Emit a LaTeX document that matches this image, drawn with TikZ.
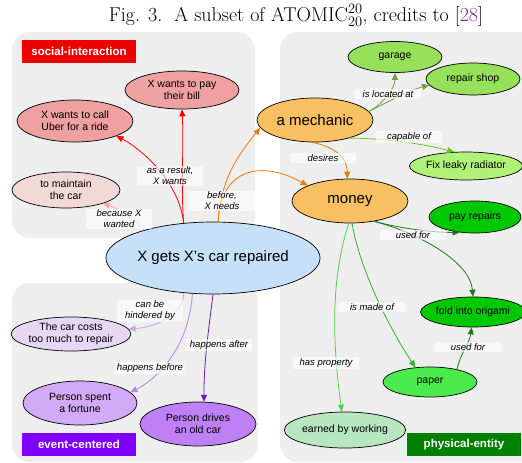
\documentclass[tikz,border=0pt]{standalone}
\usepackage{fontspec}
\setsansfont{Liberation Sans}
\usetikzlibrary{shapes.geometric,arrows.meta}
\definecolor{panelc}{RGB}{238,238,238}
\definecolor{citec}{RGB}{128,40,128}
\definecolor{catred}{RGB}{236,0,0}
\definecolor{catpur}{RGB}{128,0,255}
\definecolor{catgrn}{RGB}{0,128,0}
\definecolor{fRed}{RGB}{239,160,160}
\definecolor{fPink}{RGB}{243,216,216}
\definecolor{fBlue}{RGB}{197,224,248}
\definecolor{fOrange}{RGB}{248,192,96}
\definecolor{fGreenA}{RGB}{150,224,90}
\definecolor{fGreenB}{RGB}{176,242,120}
\definecolor{fGreenC}{RGB}{0,200,0}
\definecolor{fGreenD}{RGB}{75,235,75}
\definecolor{fGreenE}{RGB}{184,230,192}
\definecolor{fLav}{RGB}{230,215,245}
\definecolor{fPurA}{RGB}{210,170,245}
\definecolor{fPurB}{RGB}{192,128,245}
\definecolor{eRed}{RGB}{250,0,0}
\definecolor{ePink}{RGB}{240,170,170}
\definecolor{eOrange}{RGB}{240,120,0}
\definecolor{eOrangeD}{RGB}{210,130,0}
\definecolor{eOlive}{RGB}{110,160,60}
\definecolor{eLime}{RGB}{100,200,30}
\definecolor{eDark}{RGB}{30,120,30}
\definecolor{eMid}{RGB}{50,180,50}
\definecolor{eLight}{RGB}{80,210,80}
\definecolor{eLavA}{RGB}{200,160,240}
\definecolor{eLavB}{RGB}{180,130,240}
\definecolor{eLavC}{RGB}{110,20,210}
\tikzset{
  ent/.style={ellipse, draw=black, line width=0.7pt, inner sep=0pt, align=center,
    font=\sffamily\fontsize{10.5}{12}\selectfont},
  bigent/.style={ent, font=\sffamily\fontsize{15}{17}\selectfont},
  cat/.style={inner sep=0pt, text=white, minimum width=114pt, minimum height=23pt,
    font=\sffamily\bfseries\fontsize{11.5}{13}\selectfont},
  elab/.style={fill=white, fill opacity=0.6, text opacity=1, inner sep=1.5pt,
    minimum width=66pt, align=center, font=\sffamily\itshape\fontsize{9.5}{11}\selectfont},
  conn/.style={line width=0.8pt, -{Triangle[length=7pt,width=6pt]}},
  panel/.style={fill=panelc, rounded corners=18pt}
}
\begin{document}
\begin{tikzpicture}[x=1pt,y=-1pt]
\useasboundingbox (0,0) rectangle (522,463);
\clip (0,0) rectangle (522,463);
% title
\node[anchor=base, inner sep=0pt, font=\fontsize{20}{23}\selectfont] (title) at (296,21)
  {Fig. 3.\ \ A subset of ATOMIC$^{20}_{20}$, credits to [\textcolor{citec}{28}]};
% panels
\fill[panel] (12,32) rectangle (255,238);
\fill[panel] (12,283) rectangle (258,462);
\fill[panel] (280,32) rectangle (545,462);
% category labels
\node[cat, fill=catred] (csoc) at (79,51.5) {social-interaction};
\node[cat, fill=catpur] (cevt) at (79,444.5) {event-centered};
\node[cat, fill=catgrn] (cphy) at (464,444.5) {physical-entity};
% entity nodes
\node[ent, fill=fRed, minimum width=114pt, minimum height=38pt] (pay) at (182,90) {X wants to pay\\their bill};
\node[ent, fill=fRed, minimum width=116pt, minimum height=42pt] (uber) at (75,121) {X wants to call\\Uber for a ride};
\node[ent, fill=fPink, minimum width=108pt, minimum height=36pt] (maint) at (66,190) {to maintain\\the car};
\node[bigent, fill=fBlue, minimum width=200pt, minimum height=72pt] (xg) at (213,258) {X gets X’s car repaired};
\node[bigent, fill=fOrange, minimum width=116pt, minimum height=44pt] (mech) at (315,120) {a mechanic};
\node[bigent, fill=fOrange, minimum width=116pt, minimum height=44pt] (money) at (350,201) {money};
\node[ent, fill=fGreenA, minimum width=94pt, minimum height=31pt] (gar) at (395,57) {garage};
\node[ent, fill=fGreenA, minimum width=94pt, minimum height=32pt] (shop) at (473,79) {repair shop};
\node[ent, fill=fGreenB, minimum width=110pt, minimum height=28pt] (fix) at (466,166) {Fix leaky radiator};
\node[ent, fill=fGreenC, minimum width=92pt, minimum height=32pt] (payr) at (475,217) {pay repairs};
\node[ent, fill=fGreenC, minimum width=94pt, minimum height=30pt] (fold) at (473,312) {fold into origami};
\node[ent, fill=fGreenD, minimum width=94pt, minimum height=30pt] (paper) at (430,382) {paper};
\node[ent, fill=fGreenE, minimum width=116pt, minimum height=36pt] (earn) at (345,430) {earned by working};
\node[ent, fill=fLav, minimum width=116pt, minimum height=34pt] (cost) at (71,334) {The car costs\\too much to repair};
\node[ent, fill=fPurA, minimum width=114pt, minimum height=44pt] (spent) at (80,403) {Person spent\\a fortune};
\node[ent, fill=fPurB, minimum width=116pt, minimum height=44pt] (drive) at (198,424) {Person drives\\an old car};
% connectors
\draw[conn, eRed] (xg.130) .. controls +(-3,-40) and +(2,40) .. (pay.-90);
\draw[conn, eRed] (xg.130) .. controls +(-5,-45) and +(20,10) .. (uber.-20);
\draw[conn, ePink] (xg.158) .. controls +(-15,-15) and +(15,5) .. (maint.-20);
\draw[conn, eOrange] (xg.82) .. controls +(3,-45) and +(-20,25) .. (mech.188);
\draw[conn, eOrange] (xg.82) .. controls +(3,-55) and +(-45,-25) .. (money.160);
\draw[conn, eOrangeD] (mech.-98) .. controls +(25,5) and +(0,-20) .. (money.97);
\draw[conn, eOlive] (mech.9) .. controls +(15,-8) and +(0,15) .. (gar.-90);
\draw[conn, eOlive] (mech.9) .. controls +(20,-10) and +(-20,5) .. (shop.188);
\draw[conn, eLime] (mech.-28) .. controls +(35,0) and +(-30,-8) .. (fix.130);
\draw[conn, eDark] (money.-40) .. controls +(30,8) and +(-25,0) .. (payr.-135);
\draw[conn, eDark] (money.-40) .. controls +(45,12) and +(-3,-35) .. (fold.90);
\draw[conn, eMid] (money.-85) .. controls +(10,55) and +(-20,-30) .. (paper.135);
\draw[conn, eLight] (money.-93) .. controls +(-20,60) and +(-8,-60) .. (earn.100);
\draw[conn, eDark] (paper.25) .. controls +(3,-15) and +(-2,15) .. (fold.-95);
\draw[conn, eLavA] (xg.-130) .. controls +(0,20) and +(30,-2) .. (cost.5);
\draw[conn, eLavB] (xg.-120) .. controls +(-3,50) and +(30,-15) .. (spent.12);
\draw[conn, eLavC] (xg.-90) .. controls +(-5,40) and +(0,-40) .. (drive.75);
% edge labels
\node[elab] (l1) at (170,176) {as a result,\\X wants};
\node[elab] (l2) at (119,219) {because X\\wanted};
\node[elab] (l3) at (222,201) {before,\\X needs};
\node[elab] (l4) at (323,158) {desires};
\node[elab] (l5) at (388,94) {is located at};
\node[elab] (l6) at (409,137) {capable of};
\node[elab] (l7) at (413,235) {used for};
\node[elab] (l8) at (372,307) {is made of};
\node[elab] (l9) at (326,363) {has property};
\node[elab] (l10) at (468,347) {used for};
\node[elab] (l11) at (150,311) {can be\\hindered by};
\node[elab] (l12) at (150,368) {happens before};
\node[elab] (l13) at (219,345) {happens after};
\end{tikzpicture}
\end{document}
